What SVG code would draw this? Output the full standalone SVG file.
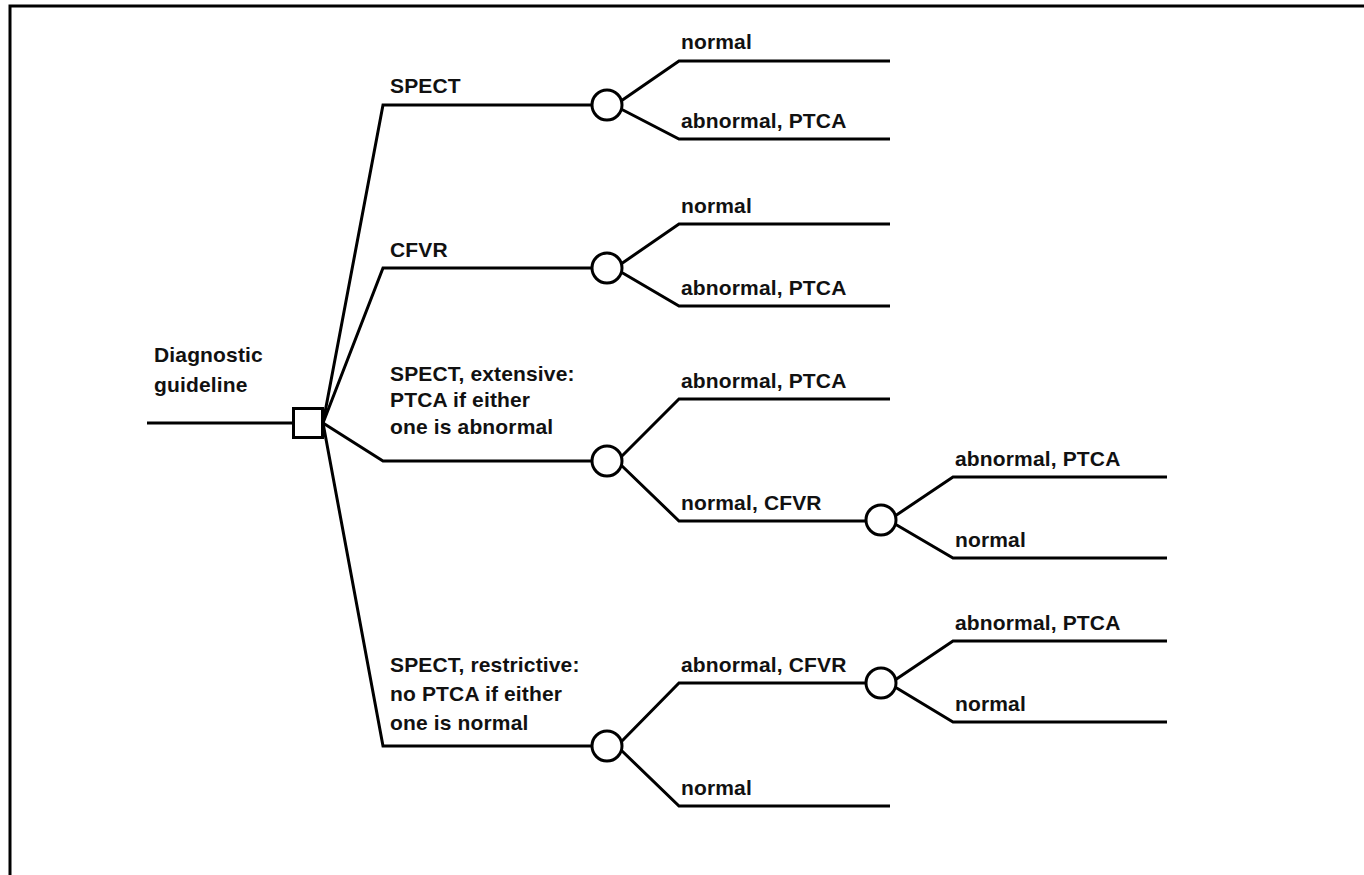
<svg xmlns="http://www.w3.org/2000/svg" width="1364" height="875" viewBox="0 0 1364 875">
<style>
.ln{fill:none;stroke:#000;stroke-width:3;stroke-linejoin:miter;stroke-linecap:butt}
.nd{fill:#fff;stroke:#000;stroke-width:3}
text{font-family:"Liberation Sans",Arial,sans-serif;font-size:21px;font-weight:bold;letter-spacing:0.15px;fill:#111}
</style>
<rect width="1364" height="875" fill="#fff"/>
<path d="M10,875 V6 H1364" fill="none" stroke="#000" stroke-width="3"/>
<g id="connectors" class="ln">
<path d="M147,423 H293"/>
<path d="M323,423 L383,105 H592"/>
<path d="M323,423 L383,268 H592"/>
<path d="M323,423 L383,461 H592"/>
<path d="M323,423 L383,746 H592"/>
<path d="M621,101 L679,61 H890"/>
<path d="M621,109 L679,139 H890"/>
<path d="M621,264 L679,224 H890"/>
<path d="M621,272 L679,306 H890"/>
<path d="M621,457 L679,399 H890"/>
<path d="M621,465 L679,521 H866"/>
<path d="M895,516 L953,477 H1167"/>
<path d="M895,524 L953,558 H1167"/>
<path d="M621,742 L679,683 H866"/>
<path d="M621,750 L679,806 H890"/>
<path d="M895,680 L953,641 H1167"/>
<path d="M895,687 L953,722 H1167"/>
</g>
<g id="root"><text x="154" y="362">Diagnostic</text><text x="154" y="392">guideline</text></g>
<g id="decision"><rect class="nd" x="293.5" y="408.5" width="29" height="29"/></g>
<g id="spect"><text x="390" y="93">SPECT</text><circle class="nd" cx="607" cy="105" r="15"/>
<text x="681" y="49">normal</text><text x="681" y="128">abnormal, PTCA</text></g>
<g id="cfvr"><text x="390" y="257">CFVR</text><circle class="nd" cx="607" cy="268" r="15"/>
<text x="681" y="213">normal</text><text x="681" y="295">abnormal, PTCA</text></g>
<g id="extensive"><text x="390" y="381">SPECT, extensive:</text><text x="390" y="407">PTCA if either</text><text x="390" y="434">one is abnormal</text>
<circle class="nd" cx="607" cy="461" r="15"/>
<text x="681" y="388">abnormal, PTCA</text><text x="681" y="510">normal, CFVR</text></g>
<g id="extensive-cfvr"><circle class="nd" cx="881" cy="520" r="15"/>
<text x="955" y="466">abnormal, PTCA</text><text x="955" y="547">normal</text></g>
<g id="restrictive"><text x="390" y="672">SPECT, restrictive:</text><text x="390" y="701">no PTCA if either</text><text x="390" y="730">one is normal</text>
<circle class="nd" cx="607" cy="746" r="15"/>
<text x="681" y="672">abnormal, CFVR</text><text x="681" y="795">normal</text></g>
<g id="restrictive-cfvr"><circle class="nd" cx="881" cy="683" r="15"/>
<text x="955" y="630">abnormal, PTCA</text><text x="955" y="711">normal</text></g>
</svg>
